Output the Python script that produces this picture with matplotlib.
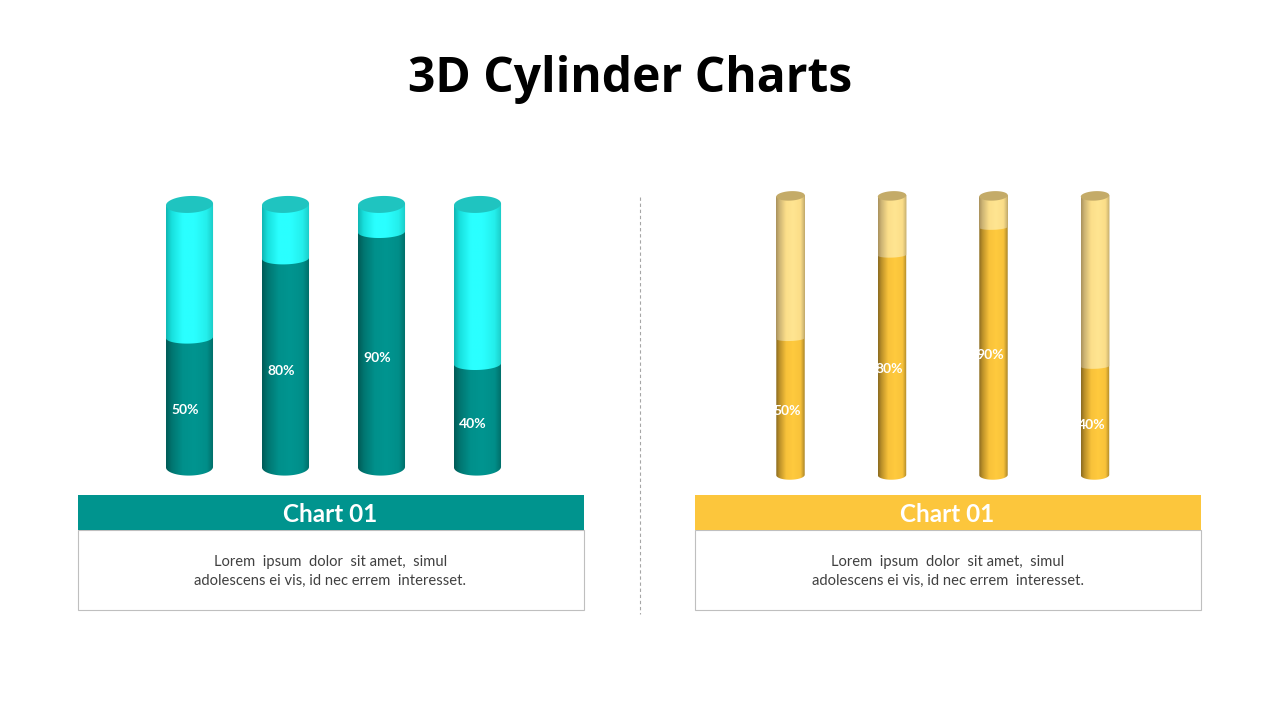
import numpy as np
import matplotlib
matplotlib.use("Agg")
import matplotlib.pyplot as plt
from matplotlib.colors import LinearSegmentedColormap
from matplotlib.patches import Polygon, Rectangle

W, H = 1280, 720

title = "3D Cylinder Charts"
categories = ["A", "B", "C", "D"]
teal_values = [50, 80, 90, 40]
yellow_values = [50, 80, 90, 40]
panel_title = "Chart 01"
panel_text = "Lorem  ipsum  dolor  sit amet,  simul\nadolescens ei vis, id nec errem  interesset."

stops = [0.0, 0.12, 0.35, 0.6, 0.85, 1.0]
teal_dark = ["#005a56", "#007570", "#00908b", "#009590", "#008e89", "#006a66"]
teal_light = ["#10b5b2", "#18e0dd", "#2affff", "#2affff", "#24eeeb", "#1bc8c4"]
yellow_dark = ["#8a6a20", "#bb9029", "#f8c23a", "#ffca3e", "#f8c23a", "#a88428"]
yellow_light = ["#a8915c", "#cdb474", "#fcdf8a", "#ffe591", "#fbdd88", "#c0aa6c"]


def make_cmap(colors):
    return LinearSegmentedColormap.from_list("c", list(zip(stops, colors)))


def fill_body(ax, verts, cmap, x, w, y0, y1):
    patch = Polygon(verts, closed=True, fc="none", ec="none")
    ax.add_patch(patch)
    grad = np.linspace(0, 1, 256).reshape(1, -1)
    im = ax.imshow(grad, cmap=cmap, vmin=0, vmax=1, aspect="auto", interpolation="bilinear",
                   extent=[x - w / 2, x + w / 2, y0, y1], zorder=2)
    im.set_clip_path(patch)


def draw_cylinder(ax, x, value, w, base, top, ry, level_ry, tilt, dark, light, cap):
    t = np.linspace(0, np.pi, 80)
    ex = w / 2 * np.cos(t)
    # whole body in the dark colour
    front = np.column_stack([x + ex, base - ry * np.sin(t) + 0.3 * tilt * np.cos(t)])
    back = [[x - w / 2, top - tilt], [x + w / 2, top + tilt]]
    fill_body(ax, np.vstack([front, back]), make_cmap(dark), x, w, base - ry - 1, top + 2)
    # upper part in the light colour, its lower edge bows down at the level
    front = np.column_stack([x + ex, value - level_ry * np.sin(t) + 0.7 * tilt * np.cos(t)])
    fill_body(ax, np.vstack([front, back]), make_cmap(light), x, w, value - level_ry - 1, top + 2)
    # lid
    t = np.linspace(0, 2 * np.pi, 120)
    lid = np.column_stack([x + w / 2 * np.cos(t), top + ry * np.sin(t) + tilt * np.cos(t)])
    ax.add_patch(Polygon(lid, closed=True, fc=cap, ec="none", zorder=3))


def draw_chart(fig, x_px, y_px, values, w, base, top, ry, level_ry, tilt, dark, light, cap, label_dx, label_dy):
    # x_px: pixels of x=-0.5 and x=3.5, y_px: pixels of value 0 and value 100
    per_unit = (y_px[0] - y_px[1]) / 100
    margin = 10
    bottom_px = y_px[0] + margin * per_unit
    top_px = y_px[1] - margin * per_unit
    ax = fig.add_axes([x_px[0] / W, 1 - bottom_px / H, (x_px[1] - x_px[0]) / W, (bottom_px - top_px) / H])
    positions = np.arange(len(categories))
    for x, v in zip(positions, values):
        draw_cylinder(ax, x, v, w, base, top, ry, level_ry, tilt, dark, light, cap)
        ax.annotate(f"{v}%", (x, v / 2), xytext=(label_dx, label_dy), textcoords="offset pixels",
                    ha="center", va="center", color="white", fontsize=10, fontweight="bold",
                    family="Lato", zorder=5)
    ax.set_xlim(-0.5, 3.5)
    ax.set_ylim(-margin, 100 + margin)
    ax.axis("off")
    return ax


def draw_panel(bg, x0, x1, color):
    bg.add_patch(Rectangle((x0, 530), x1 - x0, 80, fc="white", ec="#bfbfbf", lw=0.8))
    bg.add_patch(Rectangle((x0, 495), x1 - x0, 35, fc=color, ec="none"))
    xc = (x0 + x1) / 2
    bg.text(xc - 0.5, 514.5, panel_title, color="white", fontsize=17.5, fontweight="bold",
            family="Lato", ha="center", va="center")
    bg.text(xc - 0.5, 571.5, panel_text, color="#404040", fontsize=10.6, family="Lato",
            ha="center", va="center", linespacing=1.42)


def main():
    fig = plt.figure(figsize=(W / 100, H / 100), dpi=100, facecolor="white")
    bg = fig.add_axes([0, 0, 1, 1])
    bg.set_xlim(0, W)
    bg.set_ylim(H, 0)
    bg.axis("off")

    bg.text(630, 80, title, fontsize=34.6, fontweight="bold", family="Open Sans",
            color="black", ha="center", va="center")
    bg.plot([640, 640], [197, 614], color="#a6a6a6", lw=0.8, ls=(0, (3, 2.5)))

    draw_panel(bg, 78, 584, "#00948e")
    draw_panel(bg, 695, 1201, "#fcc63c")

    draw_chart(fig, (141.5, 525.5), (469.5, 205.5), teal_values, 0.49, 0.9, 100.4, 3.2, 2.3, 0.35,
               teal_dark, teal_light, "#1fc4c0", -4.5, -7)
    draw_chart(fig, (739.75, 1145.75), (477.5, 199.5), yellow_values, 0.28, 0.9, 101.3, 1.7, 0.9, 0.25,
               yellow_dark, yellow_light, "#c4ab68", -3, -3)

    fig.savefig("out.png", dpi=100, facecolor="white")


if __name__ == "__main__":
    main()
